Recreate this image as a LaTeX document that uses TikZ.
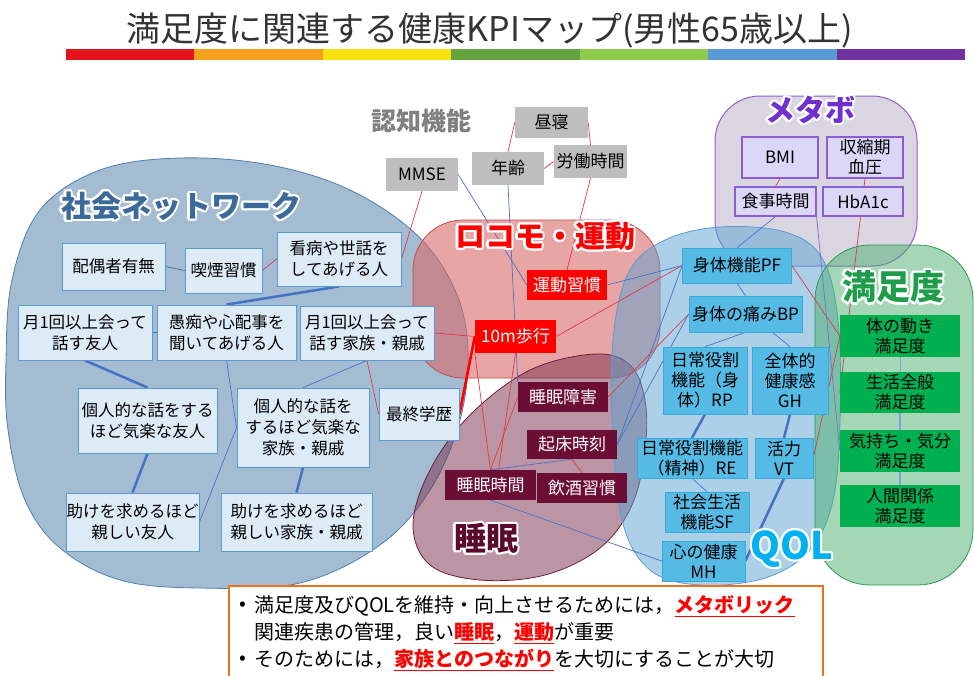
\documentclass[tikz,border=0pt]{standalone}
\usepackage{fontspec}
\setmainfont{Noto Sans CJK JP}
\usetikzlibrary{calc}
\definecolor{rb1}{HTML}{E3141B}
\definecolor{rb2}{HTML}{F4A11D}
\definecolor{rb3}{HTML}{FBE10F}
\definecolor{rb4}{HTML}{62A33F}
\definecolor{rb5}{HTML}{8DCB4B}
\definecolor{rb6}{HTML}{5A9AD4}
\definecolor{rb7}{HTML}{7132A0}
\definecolor{socfill}{HTML}{A3BCD2}
\definecolor{socline}{HTML}{5080AE}
\definecolor{locofill}{HTML}{D96969}
\definecolor{locoline}{HTML}{C0504D}
\definecolor{sleepfill}{HTML}{7B2C4A}
\definecolor{sleepline}{HTML}{6B1F3E}
\definecolor{qolfill}{HTML}{5BA3D0}
\definecolor{qolline}{HTML}{5B9BD5}
\definecolor{metafill}{HTML}{C0BCD0}
\definecolor{metaline}{HTML}{9060D0}
\definecolor{satfill}{HTML}{4CAF6E}
\definecolor{satline}{HTML}{2E9A55}
\definecolor{sboxf}{HTML}{DDEBF7}
\definecolor{sboxd}{HTML}{5B9BD5}
\definecolor{gboxf}{HTML}{BEBEBE}
\definecolor{mboxf}{HTML}{6B0D35}
\definecolor{qboxf}{HTML}{55BBE5}
\definecolor{qboxd}{HTML}{3AA8DC}
\definecolor{metaboxf}{HTML}{DCD6F7}
\definecolor{metaboxd}{HTML}{8A5CD6}
\definecolor{satboxf}{HTML}{00B050}
\definecolor{redln}{HTML}{E03A4A}
\definecolor{blueln}{HTML}{4A72C8}
\definecolor{tblueln}{HTML}{4472C4}
\definecolor{greyln}{HTML}{4A6A8A}
\definecolor{purpln}{HTML}{7A6FC0}
\definecolor{ltblueln}{HTML}{7FA0E0}
\definecolor{soctxt}{HTML}{3B6A98}
\definecolor{cogtxt}{HTML}{808080}
\definecolor{sleeptxt}{HTML}{5A0A2A}
\definecolor{qoltxt}{HTML}{00B0F0}
\definecolor{metatxt}{HTML}{7030D0}
\definecolor{sattxt}{HTML}{1E9E4A}
\definecolor{tborder}{HTML}{F07020}
\definecolor{titletxt}{HTML}{333333}
\pgfdeclarelayer{blobs}
\pgfdeclarelayer{edges}
\pgfsetlayers{blobs,edges,main}
\newcommand\lblfont[1]{\fontsize{#1}{#1}\selectfont\bfseries}
\newcommand\glowlabel[5]{%
  \foreach \ang [count=\k] in {0,30,...,330}{\node[font=#4,text=white,inner sep=0pt] (#1w\k) at ($(#2)+(\ang:2.2pt)$) {#5};}%
  \node[font=#4,text=#3,inner sep=0pt] (#1) at (#2) {#5};}
\newcommand\redem[1]{\textcolor{red}{\bfseries\underline{#1}}}
\tikzset{
  socbox/.style={draw=sboxd, fill=sboxf, line width=0.9pt, align=center, inner sep=0pt, font=\fontsize{16.5}{21}\selectfont},
  cogbox/.style={fill=gboxf, align=center, inner sep=0pt, font=\fontsize{17}{21}\selectfont},
  locobox/.style={fill=red, text=white, align=center, inner sep=0pt, font=\fontsize{17}{21}\selectfont},
  sleepbox/.style={fill=mboxf, text=white, align=center, inner sep=0pt, font=\fontsize{17}{21}\selectfont},
  qolbox/.style={fill=qboxf, draw=qboxd, line width=0.6pt, align=center, inner sep=0pt, font=\fontsize{17}{20}\selectfont},
  metabox/.style={fill=metaboxf, draw=metaboxd, line width=1.1pt, align=center, inner sep=0pt, font=\fontsize{17}{20}\selectfont},
  satbox/.style={fill=satboxf, align=center, inner sep=0pt, font=\fontsize{17}{20}\selectfont},
  redl/.style={draw=redln, line width=0.7pt},
  bluel/.style={draw=blueln, line width=0.7pt},
  tblue/.style={draw=tblueln, line width=2.5pt},
  tred/.style={draw=red, line width=2.6pt},
}
\begin{document}
\begin{tikzpicture}[x=1pt,y=-1pt]
\useasboundingbox (0,0) rectangle (974,675);
\begin{pgfonlayer}{blobs}
\fill[white] (0,0) rectangle (974,675);
\draw[draw=socline, line width=0.8pt, fill=socfill] plot[smooth cycle, tension=0.6] coordinates {(6,360) (12,280) (40,210) (100,170) (180,158) (270,165) (350,190) (417,235) (455,290) (468,350) (460,420) (430,490) (380,545) (300,583) (200,588) (120,580) (60,548) (25,500) (8,430)};
\draw[draw=locoline, line width=0.8pt, fill=locofill, fill opacity=0.6, rounded corners=50pt] (413,220) rectangle (660,378);
\draw[draw=metaline, line width=1pt, fill=metafill, fill opacity=0.6, rounded corners=45pt] (715,96) rectangle (917,266);
\draw[draw=sleepline, line width=0.8pt, fill=sleepfill, fill opacity=0.5] plot[smooth cycle, tension=0.6] coordinates {(413,525) (430,470) (470,415) (530,370) (595,354) (630,365) (645,400) (645,450) (632,505) (600,548) (545,575) (480,580) (430,565)};
\draw[draw=qolline, line width=0.8pt, fill=qolfill, fill opacity=0.5] plot[smooth cycle, tension=0.6] coordinates {(612,420) (614,330) (630,270) (665,240) (720,227) (785,232) (822,258) (838,320) (840,420) (833,500) (810,550) (765,578) (700,585) (650,570) (622,520)};
\draw[draw=satline, line width=0.8pt, fill=satfill, fill opacity=0.5, rounded corners=55pt] (815,245) rectangle (973,585);
\end{pgfonlayer}

% title and rainbow bar
\node[font=\fontsize{34}{34}\selectfont, text=titletxt, inner sep=0pt] (title) at (490,31) {満足度に関連する健康KPIマップ(男性65歳以上)};
\foreach \c [count=\i from 0] in {rb1,rb2,rb3,rb4,rb5,rb6,rb7}
  \fill[\c] ({66+\i*128.43},49) rectangle ({66+(\i+1)*128.43},60);

% group labels
\glowlabel{lsoc}{181,206}{soctxt}{\lblfont{30}}{社会ネットワーク}
\glowlabel{lcog}{421,121}{cogtxt}{\lblfont{25}}{認知機能}
\glowlabel{lloco}{545,236}{red}{\lblfont{30}}{ロコモ・運動}
\glowlabel{lsleep}{486,538}{sleeptxt}{\lblfont{32}}{睡眠}
\glowlabel{lqol}{792,549}{qoltxt}{\lblfont{38}}{QOL}
\glowlabel{lmeta}{810,110}{metatxt}{\lblfont{30}}{メタボ}
\glowlabel{lsat}{893,287}{sattxt}{\lblfont{34}}{満足度}

% social network boxes
\node[socbox, minimum width=103pt, minimum height=47pt] (s1) at (113.5,266.5) {配偶者有無};
\node[socbox, minimum width=77pt, minimum height=45pt] (s2) at (223.5,270.5) {喫煙習慣};
\node[socbox, minimum width=124pt, minimum height=54pt] (s3) at (339,259) {看病や世話を\\してあげる人};
\node[socbox, minimum width=134pt, minimum height=55pt] (s4) at (85,332.5) {月1回以上会って\\話す友人};
\node[socbox, minimum width=139pt, minimum height=55pt] (s5) at (226.5,332.5) {愚痴や心配事を\\聞いてあげる人};
\node[socbox, minimum width=134pt, minimum height=54pt] (s6) at (367,333) {月1回以上会って\\話す家族・親戚};
\node[socbox, minimum width=139pt, minimum height=65pt] (s7) at (147.5,420.5) {個人的な話をする\\ほど気楽な友人};
\node[socbox, minimum width=132pt, minimum height=79pt] (s8) at (303,427.5) {個人的な話を\\するほど気楽な\\家族・親戚};
\node[socbox, minimum width=80pt, minimum height=52pt] (s9) at (419,414) {最終学歴};
\node[socbox, minimum width=133pt, minimum height=58pt] (s10) at (132.5,522) {助けを求めるほど\\親しい友人};
\node[socbox, minimum width=151pt, minimum height=58pt] (s11) at (296.5,522) {助けを求めるほど\\親しい家族・親戚};

% cognitive boxes
\node[cogbox, minimum width=73pt, minimum height=31pt] (g1) at (551.5,122.5) {昼寝};
\node[cogbox, minimum width=72pt, minimum height=33pt] (g2) at (508,168.5) {年齢};
\node[cogbox, minimum width=73pt, minimum height=33pt] (g3) at (590.5,161.5) {労働時間};
\node[cogbox, minimum width=72pt, minimum height=33pt] (g4) at (422,174.5) {MMSE};

% locomo boxes
\node[locobox, minimum width=80pt, minimum height=30pt] (r1) at (567,285) {運動習慣};
\node[locobox, minimum width=81pt, minimum height=33pt] (r2) at (515.5,336.5) {10m歩行};

% sleep boxes
\node[sleepbox, minimum width=90pt, minimum height=30pt] (m1) at (563,397) {睡眠障害};
\node[sleepbox, minimum width=90pt, minimum height=29pt] (m2) at (572,444.5) {起床時刻};
\node[sleepbox, minimum width=91pt, minimum height=30pt] (m3) at (490.5,485) {睡眠時間};
\node[sleepbox, minimum width=90pt, minimum height=30pt] (m4) at (582,488) {飲酒習慣};

% QOL boxes
\node[qolbox, minimum width=109pt, minimum height=35pt] (q1) at (737,265.5) {身体機能PF};
\node[qolbox, minimum width=113pt, minimum height=36pt] (q2) at (745.5,314) {身体の痛みBP};
\node[qolbox, minimum width=84pt, minimum height=67pt] (q3) at (705,380.5) {日常役割\\機能（身\\体）RP};
\node[qolbox, minimum width=76pt, minimum height=67pt] (q4) at (790,380.5) {全体的\\健康感\\GH};
\node[qolbox, minimum width=110pt, minimum height=40pt] (q5) at (692,458) {日常役割機能\\（精神）RE};
\node[qolbox, minimum width=58pt, minimum height=40pt] (q6) at (784,458) {活力\\VT};
\node[qolbox, minimum width=84pt, minimum height=40pt] (q7) at (707,512) {社会生活\\機能SF};
\node[qolbox, minimum width=83pt, minimum height=40pt] (q8) at (703.5,561) {心の健康\\MH};

% metabo boxes
\node[metabox, minimum width=76pt, minimum height=41pt] (b1) at (780,157.5) {BMI};
\node[metabox, minimum width=76pt, minimum height=41pt] (b2) at (865,157.5) {収縮期\\血圧};
\node[metabox, minimum width=81pt, minimum height=29pt] (b3) at (775.5,201.5) {食事時間};
\node[metabox, minimum width=80pt, minimum height=29pt] (b4) at (863,201.5) {HbA1c};

% satisfaction boxes
\node[satbox, minimum width=120pt, minimum height=42pt] (v1) at (900,336) {体の動き\\満足度};
\node[satbox, minimum width=120pt, minimum height=41pt] (v2) at (900,392.5) {生活全般\\満足度};
\node[satbox, minimum width=120pt, minimum height=42pt] (v3) at (900,451) {気持ち・気分\\満足度};
\node[satbox, minimum width=120pt, minimum height=42pt] (v4) at (900,506) {人間関係\\満足度};

\begin{pgfonlayer}{edges}
% social
\draw[draw=greyln, line width=0.7pt] (s1.east) -- (s2.west);
\draw[redl] (s2.east) -- (s3.west);
\draw[tblue] (s3.south) -- (s5.north);
\draw[bluel] (s4.east) -- (s5.west);
\draw[tblue] (s4.south) -- (s7.north);
\draw[bluel] (s5.south) -- (s8.west);
\draw[bluel] (s10.east) -- (s8.west);
\draw[bluel] (s6.south) -- (s8.north);
\draw[redl] (s6.south) -- (s9.west);
\draw[tblue] (s7.south) -- (s10.north);
\draw[tblue] (s8.south) -- (s11.north);
\draw[redl] (s6.east) -- (r2.west);
\draw[tred] (r2.west) -- (s9.east);
\draw[redl] (g4.south) -- (s3.east);
% cognitive
\draw[redl] (g1.west) -- (g2.north);
\draw[redl] (g1.east) -- (g3.north);
\draw[redl] (g2.east) -- (g3.west);
\draw[redl] (g3.south) -- (r1.north);
\draw[bluel] (g4.east) -- (r1.west);
\draw[bluel] (g2.south) -- (m1.north west);
% locomo / sleep
\draw[bluel] (r1.east) -- (q1.west);
\draw[redl] (r2.east) -- (q1.west);
\draw[redl] (r2.south) -- ([xshift=8pt]m3.north);
\draw[redl] (r2.south west) -- (m3.north);
\draw[redl] (m1.west) -- (m3.north);
\draw[bluel] (m3.north) -- (m2.south);
\draw[redl] (m2.south) -- (m4.north);
\draw[bluel] (m3.south) -- (q8.west);
\draw[redl] (m1.east) -- (q2.west);
\draw[bluel] (m2.east) -- (q2.west);
\draw[bluel] (m2.east) -- (q1.west);
% QOL
\draw[bluel] (q1.south) -- (q2.north);
\draw[bluel] (q2.south) -- (q3.north);
\draw[bluel] ([xshift=27pt]q2.south) -- (q4.north);
\draw[tblue] (q3.south) -- (q5.north);
\draw[tblue] (q4.south) -- (q6.north);
\draw[bluel] (q5.south) -- (q7.north);
\draw[tblue] (q6.south) -- (q8.east);
% metabo / satisfaction
\draw[bluel] (b3.south) -- (q1.north);
\draw[redl] (b1.south) -- (b3.north);
\draw[redl] (b2.south) -- (v2.west);
\draw[redl] (q1.east) -- (v1.west);
\draw[redl] (q6.east) -- (v1.west);
\draw[draw=purpln, line width=0.7pt] (b3.south east) -- (v3.west);
\draw[draw=ltblueln, line width=0.8pt] (v1.south) -- (v2.north);
\draw[draw=ltblueln, line width=1.2pt] (v2.south) -- (v3.north);
\draw[draw=ltblueln, line width=2pt] (v3.south) -- (v4.north);
\end{pgfonlayer}

% summary text box
\node[draw=tborder, line width=2pt, fill=white, minimum width=594pt, minimum height=100pt, anchor=north west, inner sep=0pt] (tb) at (228,585) {};
\node[font=\fontsize{20}{20}\selectfont, inner sep=0pt] (bul1) at (243,606) {•};
\node[font=\fontsize{20}{20}\selectfont, inner sep=0pt, anchor=west] (t1) at (254,606) {満足度及びQOLを維持・向上させるためには，\redem{メタボリック}};
\node[font=\fontsize{20}{20}\selectfont, inner sep=0pt, anchor=west] (t2) at (254,633) {関連疾患の管理，良い\redem{睡眠}，\redem{運動}が重要};
\node[font=\fontsize{20}{20}\selectfont, inner sep=0pt] (bul2) at (243,660) {•};
\node[font=\fontsize{20}{20}\selectfont, inner sep=0pt, anchor=west] (t3) at (254,660) {そのためには，\redem{家族とのつながり}を大切にすることが大切};
\end{tikzpicture}
\end{document}
